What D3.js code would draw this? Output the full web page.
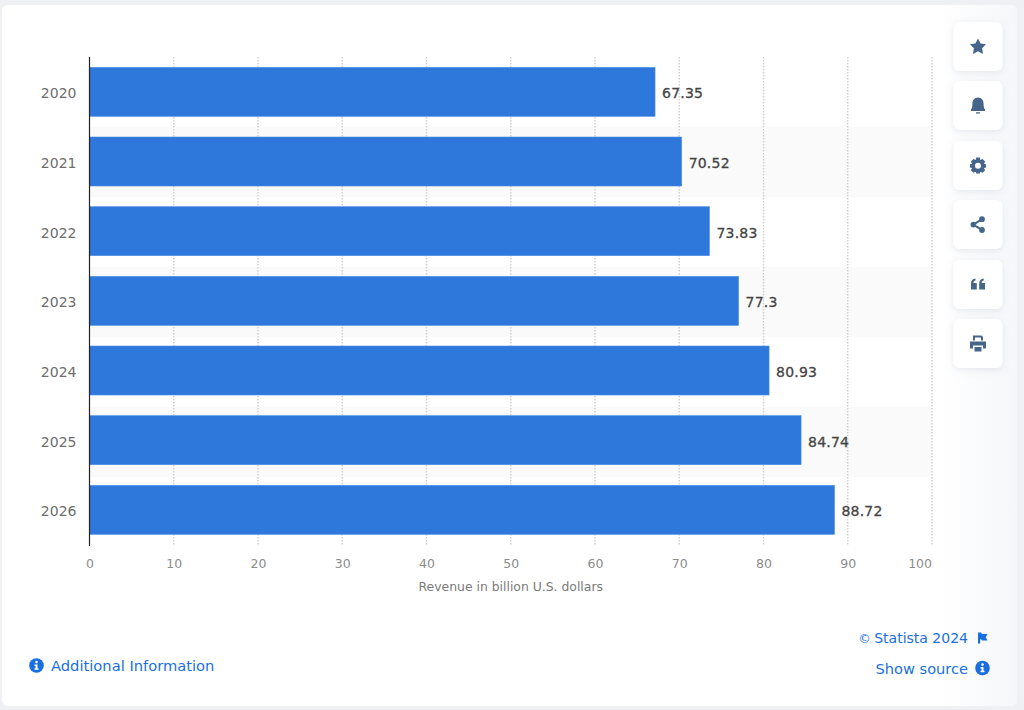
<!DOCTYPE html>
<html>
<head>
<meta charset="utf-8">
<script src="https://cdn.jsdelivr.net/npm/d3@7"></script>
<style>
html, body { margin: 0; padding: 0; background: #eef0f4; overflow: hidden; }
text { font-family: "DejaVu Sans", sans-serif; }
</style>
</head>
<body>
<div id="chart"></div>
<script>
var years = ["2020", "2021", "2022", "2023", "2024", "2025", "2026"];
var revenue = [67.35, 70.52, 73.83, 77.3, 80.93, 84.74, 88.72];
var revenueLabels = ["67.35", "70.52", "73.83", "77.3", "80.93", "84.74", "88.72"];
var xTicks = [0, 10, 20, 30, 40, 50, 60, 70, 80, 90, 100];
var xTitle = "Revenue in billion U.S. dollars";

var width = 1024, height = 710;
var barBlue = "#2e77db";
var linkBlue = "#1a6fe0";
var iconBlue = "#45668a";

var svg = d3.select("#chart").append("svg")
	.attr("width", width)
	.attr("height", height)
	.style("display", "block");

var defs = svg.append("defs");
var tint = defs.append("linearGradient").attr("id", "sideTint");
tint.append("stop").attr("offset", "0").attr("stop-color", "#ffffff");
tint.append("stop").attr("offset", "1").attr("stop-color", "#f6f7fa");

var shadow = defs.append("filter").attr("id", "cardShadow")
	.attr("x", "-30%").attr("y", "-30%").attr("width", "160%").attr("height", "160%");
shadow.append("feDropShadow").attr("dx", 0).attr("dy", 2).attr("stdDeviation", 3.5)
	.attr("flood-color", "#7a8aa0").attr("flood-opacity", 0.18);

// white card
svg.append("rect")
	.attr("x", 2).attr("y", 5).attr("width", 1015).attr("height", 701).attr("rx", 6)
	.attr("fill", "#ffffff");
svg.append("rect")
	.attr("x", 940).attr("y", 5).attr("width", 77).attr("height", 701).attr("rx", 6)
	.attr("fill", "url(#sideTint)");

var x = d3.scaleLinear().domain([0, 100]).range([89.5, 932]);
// the bars in the picture run a little short of the grid
var barX = d3.scaleLinear().domain([0, 100]).range([89.5, 929.2]);
var y = d3.scaleBand().domain(years).range([57, 544.7]);
// the stripes are spaced a bit wider than the bars
var stripeY = d3.scaleBand().domain(years).range([57, 547]);
var barHeight = 49;
var axisBottom = 546;

// stripes on every second row
svg.append("g").selectAll("rect")
	.data(years.filter(function(d, i) { return i % 2 == 1; }))
	.enter().append("rect")
	.attr("x", x(0))
	.attr("y", function(d) { return stripeY(d); })
	.attr("width", x(100) - x(0))
	.attr("height", stripeY.bandwidth())
	.attr("fill", "#fafafa");

// dotted vertical grid
svg.append("g").selectAll("line")
	.data(xTicks.slice(1))
	.enter().append("line")
	.attr("x1", function(d) { return x(d); })
	.attr("x2", function(d) { return x(d); })
	.attr("y1", y.range()[0])
	.attr("y2", axisBottom)
	.attr("stroke", "#cfcfcf")
	.attr("stroke-width", 1.4)
	.attr("stroke-dasharray", "1.5,1.5");

// bars
svg.append("g").selectAll("rect")
	.data(revenue)
	.enter().append("rect")
	.attr("x", barX(0))
	.attr("y", function(d, i) { return y(years[i]) + (y.bandwidth() - barHeight) / 2; })
	.attr("width", function(d) { return barX(d) - barX(0); })
	.attr("height", barHeight)
	.attr("fill", barBlue)
	.attr("stroke", "#4d8fe6")
	.attr("stroke-width", 0.6);

// value labels
svg.append("g").selectAll("text")
	.data(revenue)
	.enter().append("text")
	.attr("x", function(d) { return barX(d) + 7; })
	.attr("y", function(d, i) { return y(years[i]) + y.bandwidth() / 2 + 6.5; })
	.attr("font-size", 14)
	.attr("letter-spacing", 0.2)
	.attr("fill", "#444444")
	.attr("stroke", "#444444")
	.attr("stroke-width", 0.3)
	.text(function(d, i) { return revenueLabels[i]; });

// category labels
svg.append("g").selectAll("text")
	.data(years)
	.enter().append("text")
	.attr("x", 76.5)
	.attr("y", function(d) { return y(d) + y.bandwidth() / 2 + 6.5; })
	.attr("text-anchor", "end")
	.attr("font-size", 14)
	.attr("fill", "#6e6e6e")
	.text(function(d) { return d; });

// x tick labels, the last one is pulled inside the plot
svg.append("g").selectAll("text")
	.data(xTicks)
	.enter().append("text")
	.attr("x", function(d) { return d == 100 ? x(d) : x(d) + 0.5; })
	.attr("y", 568)
	.attr("text-anchor", function(d) { return d == 100 ? "end" : "middle"; })
	.attr("font-size", 12.5)
	.attr("fill", "#8c8c8c")
	.text(function(d) { return d; });

svg.append("text")
	.attr("x", (x(0) + x(100)) / 2)
	.attr("y", 591)
	.attr("text-anchor", "middle")
	.attr("font-size", 12.4)
	.attr("fill", "#7a7a7a")
	.text(xTitle);

// y axis line
svg.append("line")
	.attr("x1", x(0)).attr("x2", x(0))
	.attr("y1", y.range()[0]).attr("y2", axisBottom)
	.attr("stroke", "#222222")
	.attr("stroke-width", 1.2);

// footer links
function infoIcon(cx, cy) {
	var g = svg.append("g").attr("transform", "translate(" + cx + "," + cy + ")");
	g.append("circle").attr("r", 7.3).attr("fill", linkBlue);
	g.append("circle").attr("cy", -3.4).attr("r", 1.3).attr("fill", "#ffffff");
	g.append("path").attr("d", "M-2,-0.9H1V2.8H2V4.3H-2V2.8H-1V0.6H-2Z").attr("fill", "#ffffff");
}
infoIcon(36.5, 665.5);
infoIcon(982.5, 668);

svg.append("text").attr("x", 51).attr("y", 671)
	.attr("font-size", 14.7).attr("fill", linkBlue).text("Additional Information");
var statista = svg.append("text").attr("x", 968).attr("y", 642.5).attr("text-anchor", "end")
	.attr("font-size", 14).attr("fill", linkBlue);
statista.append("tspan").attr("font-size", 12.5).text("\u00a9");
statista.append("tspan").attr("dx", 3.5).text("Statista 2024");
svg.append("text").attr("x", 968).attr("y", 673.5).attr("text-anchor", "end")
	.attr("font-size", 14.6).attr("fill", linkBlue).text("Show source");
svg.append("path")
	.attr("d", "M978,632.5H981L982,634H987.5L985.8,637.3L987.5,640.5H982L981,639.2H980.2V643.5H978Z")
	.attr("fill", linkBlue);

// side buttons
var buttonTops = [22, 81, 141, 200, 260, 319];
var buttons = svg.append("g").selectAll("g")
	.data(buttonTops)
	.enter().append("g")
	.attr("transform", function(d) { return "translate(953.5," + d + ")"; });
buttons.append("rect")
	.attr("width", 49).attr("height", 49).attr("rx", 6)
	.attr("fill", "#ffffff")
	.attr("filter", "url(#cardShadow)");

var icons = [
	"M0,-8L2.6,-2.9L8,-2.2L4.1,1.8L5,7.4L0,4.8L-5,7.4L-4.1,1.8L-8,-2.2L-2.6,-2.9Z",
	"M0,-8C3.8,-8 5.6,-5 5.6,-1.5C5.6,1.5 6.2,3 7,4V5.5H-7V4C-6.2,3 -5.6,1.5 -5.6,-1.5C-5.6,-5 -3.8,-8 0,-8ZM-2,6.8H2V8H-2Z",
	"M-1.8,-8H1.8L2.3,-5.6L4.6,-6.6L7.1,-4L6,-1.8L8,-1.2V2L6,2.6L7.1,4.8L4.6,7.2L2.3,6.2L1.8,8H-1.8L-2.3,6.2L-4.6,7.2L-7.1,4.8L-6,2.6L-8,2V-1.2L-6,-1.8L-7.1,-4L-4.6,-6.6L-2.3,-5.6ZM0,-2.8A3,3 0 1,0 0,3.2A3,3 0 1,0 0,-2.8Z",
	"M4,-8.2A2.9,2.9 0 0,1 4,-2.4A2.9,2.9 0 0,1 4,-8.2ZM4,2.6A2.9,2.9 0 0,1 4,8.4A2.9,2.9 0 0,1 4,2.6ZM-4.6,-2.8A2.9,2.9 0 0,1 -4.6,3A2.9,2.9 0 0,1 -4.6,-2.8ZM3.4,-6.2L4.4,-4.4L-4,1L-5,-0.8ZM-4,-0.8L4.4,4.6L3.4,6.4L-5,1Z",
	"M-7,-1C-7,-4 -5.5,-5.5 -2.5,-6V-4C-3.8,-3.6 -4.4,-3 -4.5,-1.5H-1.2V5H-7ZM1.2,-1C1.2,-4 2.7,-5.5 5.7,-6V-4C4.4,-3.6 3.8,-3 3.7,-1.5H7V5H1.2Z",
	"M-5,-8H3.5L5,-6.5V-3H3V-6H-3V-3H-5ZM-8,-2H8V5H5V2H-5V5H-8ZM-3.5,3.5H3.5V8H-3.5Z"
];
buttons.append("path")
	.attr("transform", "translate(24.5,24.5)")
	.attr("d", function(d, i) { return icons[i]; })
	.attr("fill", iconBlue)
	.attr("fill-rule", function(d, i) { return i == 2 ? "evenodd" : "nonzero"; });
</script>
</body>
</html>
